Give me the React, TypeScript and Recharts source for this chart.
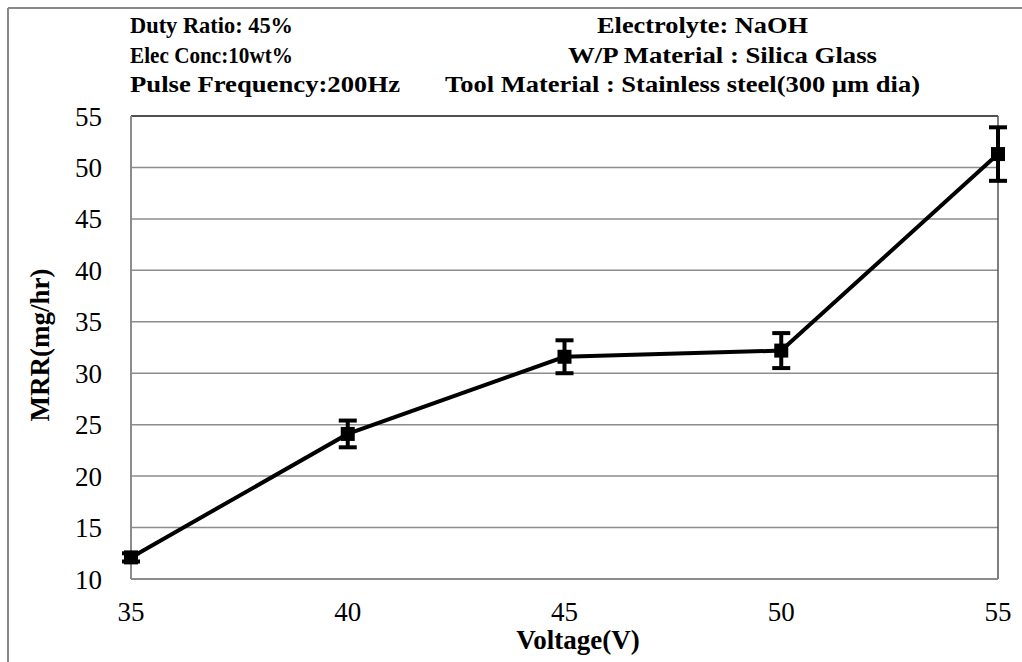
import React from 'react';
import { LineChart, Line, XAxis, YAxis, CartesianGrid, ErrorBar, ReferenceLine } from 'recharts';

const voltages = [35, 40, 45, 50, 55];
const mrrValues = [12.1, 24.1, 31.6, 32.2, 51.3];
const mrrErrors = [0.4, 1.3, 1.6, 1.7, 2.6];
const xTicks = [35, 40, 45, 50, 55];
const yTicks = [10, 15, 20, 25, 30, 35, 40, 45, 50, 55];

const headerLeft = ['Duty Ratio: 45%', 'Elec Conc:10wt%', 'Pulse Frequency:200Hz'];
const headerRight = ['Electrolyte: NaOH', 'W/P Material : Silica Glass', 'Tool Material : Stainless steel(300 \u00b5m dia)'];

const data = voltages.map((v, i) => ({ v, mrr: mrrValues[i], err: mrrErrors[i] }));

const FONT = '"Liberation Serif", "Times New Roman", serif';

const SquareDot = (props: any) => {
  const { cx, cy } = props;
  if (cx == null || cy == null) return null;
  return <rect key={`d-${cx}`} x={cx - 7} y={cy - 7} width={14} height={14} fill="#000" />;
};

const leftX = [130, 130, 130];
const leftW = [163, 163, 270];
const rightX = [597, 568, 445];
const rightW = [211, 309, 475];
const baselines = [33, 63, 92];

export default function App() {
  return (
    <div style={{ position: 'absolute', left: 0, top: 0, width: 1022, height: 662, background: '#fff' }}>
      <LineChart
        width={1022}
        height={662}
        data={data}
        margin={{ top: 116, right: 24, bottom: 53, left: 0 }}
      >
        <CartesianGrid vertical={false} stroke="#8c8c8c" strokeWidth={1.5} />
        <XAxis
          dataKey="v"
          type="number"
          domain={[35, 55]}
          ticks={xTicks}
          height={30}
          tickLine={false}
          tickSize={0}
          tickMargin={23}
          axisLine={{ stroke: '#8c8c8c', strokeWidth: 2 }}
          tick={{ fill: '#000', fontSize: 27, fontFamily: FONT }}
        />
        <YAxis
          type="number"
          domain={[10, 55]}
          ticks={yTicks}
          width={131}
          tickLine={false}
          tickSize={0}
          tickMargin={29}
          axisLine={{ stroke: '#8c8c8c', strokeWidth: 2 }}
          tick={{ fill: '#000', fontSize: 27, fontFamily: FONT }}
        />
        <ReferenceLine y={55} stroke="#333" strokeWidth={1.5} />
        <ReferenceLine x={55} stroke="#555" strokeWidth={1.5} />
        <Line
          dataKey="mrr"
          stroke="#000"
          strokeWidth={4}
          dot={<SquareDot />}
          activeDot={false}
          isAnimationActive={false}
        >
          <ErrorBar dataKey="err" width={9} strokeWidth={4} stroke="#000" direction="y" isAnimationActive={false} />
        </Line>
      </LineChart>
      <svg
        width={1022}
        height={662}
        style={{ position: 'absolute', left: 0, top: 0, pointerEvents: 'none' }}
      >
        <line x1={8} y1={8} x2={1022} y2={8} stroke="#888" strokeWidth={2} />
        <line x1={8} y1={8} x2={8} y2={662} stroke="#888" strokeWidth={2} />
        {headerLeft.map((t, i) => (
          <text key={`l${i}`} x={leftX[i]} y={baselines[i]} fontFamily={FONT} fontWeight="bold" fontSize={23}
            textLength={leftW[i]} lengthAdjust="spacingAndGlyphs">{t}</text>
        ))}
        {headerRight.map((t, i) => (
          <text key={`r${i}`} x={rightX[i]} y={baselines[i]} fontFamily={FONT} fontWeight="bold" fontSize={23}
            textLength={rightW[i]} lengthAdjust="spacingAndGlyphs">{t}</text>
        ))}
        <text x={578} y={649} textAnchor="middle" fontFamily={FONT} fontWeight="bold" fontSize={27}>Voltage(V)</text>
        <text transform="translate(49,345) rotate(-90)" textAnchor="middle" fontFamily={FONT} fontWeight="bold" fontSize={27}>MRR(mg/hr)</text>
      </svg>
    </div>
  );
}
